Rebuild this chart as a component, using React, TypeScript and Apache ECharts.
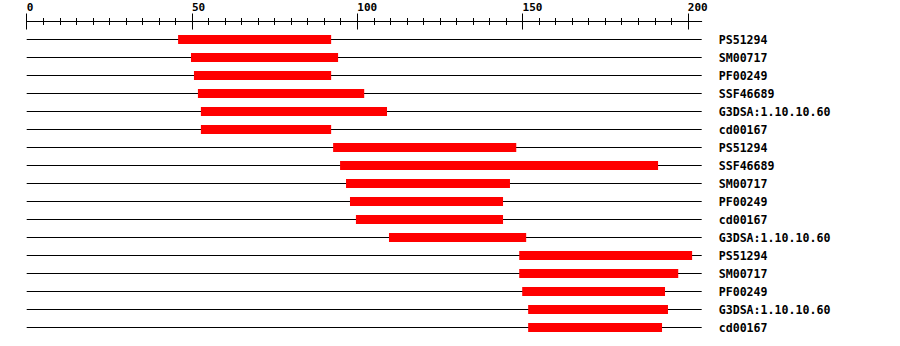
import React, { useEffect, useRef } from "react";
import * as echarts from "echarts";

const names = [
  "PS51294", "SM00717", "PF00249", "SSF46689", "G3DSA:1.10.10.60", "cd00167",
  "PS51294", "SSF46689", "SM00717", "PF00249", "cd00167", "G3DSA:1.10.10.60",
  "PS51294", "SM00717", "PF00249", "G3DSA:1.10.10.60", "cd00167",
];
const starts = [45.8, 49.7, 50.6, 51.8, 52.7, 52.7, 92.7, 94.8, 96.6, 97.8, 99.6, 109.6, 149.0, 149.0, 149.9, 151.7, 151.7];
const ends = [92.1, 94.2, 92.1, 102.1, 109.0, 92.1, 148.1, 191.0, 146.2, 144.1, 144.1, 151.1, 201.3, 197.1, 193.1, 194.0, 192.2];
const majorTicks = [0, 50, 100, 150, 200];
const minorTicks: number[] = [];
for (let v = 0; v <= 200; v += 5) minorTicks.push(v);
const AXIS_MAX = 204.2;

export default function App() {
  const ref = useRef<HTMLDivElement>(null);
  useEffect(() => {
    if (!ref.current) return;
    const chart = echarts.init(ref.current, null, { renderer: "svg" });
    const font = "DejaVu Sans Mono";
    const baseAxis = {
      type: "value" as const,
      min: 0,
      max: AXIS_MAX,
      position: "top" as const,
      gridIndex: 0,
      splitLine: { show: false },
      axisLine: { show: false },
      axisLabel: { show: false },
    };
    const data = names.map((_, i) => [i, starts[i], ends[i]]);
    chart.setOption({
      animation: false,
      grid: {
        left: 26.7,
        top: 30.5,
        width: 675,
        height: 306,
        containLabel: false,
        outerBoundsMode: "none",
      },
      xAxis: [
        {
          ...baseAxis,
          offset: 9,
          axisLine: { show: true, lineStyle: { color: "#000", width: 1 } },
          axisTick: { show: true, length: 8, customValues: majorTicks, lineStyle: { color: "#000" } },
          axisLabel: {
            show: true,
            customValues: majorTicks,
            align: "left",
            margin: 9,
            color: "#000",
            fontFamily: font,
            fontWeight: "bold",
            fontSize: 11,
          },
        },
        {
          ...baseAxis,
          offset: 9,
          axisTick: { show: true, inside: true, length: 8, customValues: majorTicks, lineStyle: { color: "#000" } },
        },
        {
          ...baseAxis,
          offset: 9,
          axisTick: { show: true, length: 3.5, customValues: minorTicks, lineStyle: { color: "#000" } },
        },
        {
          ...baseAxis,
          offset: 9,
          axisTick: { show: true, inside: true, length: 3.5, customValues: minorTicks, lineStyle: { color: "#000" } },
        },
      ],
      yAxis: {
        type: "category",
        data: names,
        inverse: true,
        position: "right",
        axisLine: { show: false },
        axisTick: { show: false },
        splitLine: { show: false },
        axisLabel: {
          margin: 17,
          color: "#000",
          fontFamily: font,
          fontWeight: "bold",
          fontSize: 11.6,
          align: "left",
        },
      },
      series: [
        {
          type: "custom",
          xAxisIndex: 0,
          yAxisIndex: 0,
          encode: { x: [1, 2], y: 0 },
          data,
          renderItem: (params: any, api: any) => {
            const row = api.value(0);
            const p0 = api.coord([0, row]);
            const p1 = api.coord([AXIS_MAX, row]);
            const a = api.coord([api.value(1), row]);
            const b = api.coord([api.value(2), row]);
            return {
              type: "group",
              children: [
                {
                  type: "line",
                  shape: { x1: p0[0], y1: p0[1], x2: p1[0], y2: p1[1] },
                  style: { stroke: "#000", lineWidth: 1 },
                },
                {
                  type: "rect",
                  shape: { x: a[0], y: a[1] - 4.5, width: b[0] - a[0], height: 9 },
                  style: { fill: "#ff0000" },
                },
              ],
            };
          },
        },
      ],
    });
    return () => chart.dispose();
  }, []);
  return (
    <div
      ref={ref}
      style={{ position: "fixed", left: 0, top: 0, width: 900, height: 346, background: "#fff" }}
    />
  );
}
